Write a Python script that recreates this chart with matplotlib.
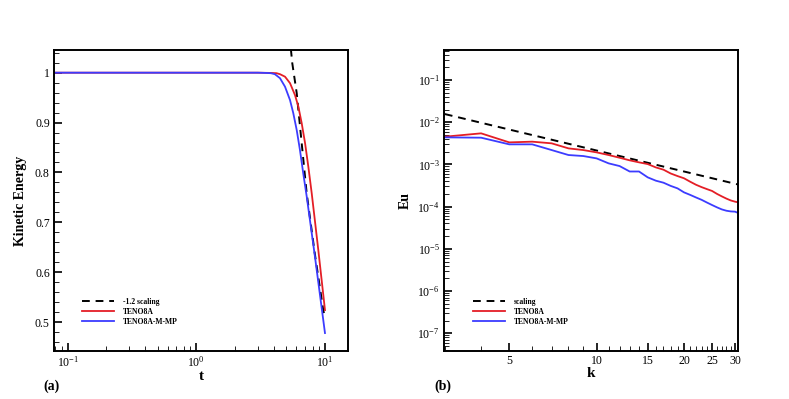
import matplotlib
matplotlib.use("Agg")
import matplotlib.pyplot as plt
from matplotlib.ticker import (LogLocator, NullFormatter, MultipleLocator,
                               FuncFormatter, FixedLocator)

plt.rcParams['font.family'] = ['Liberation Serif', 'DejaVu Serif']
plt.rcParams['mathtext.fontset'] = 'stix'

# ---- panel (a) data ----
t_scaling = [5.3, 5.57, 6.03, 6.59, 7.21, 8.36, 9.7, 10.0]
ke_scaling = [1.075, 1.019, 0.959, 0.859, 0.758, 0.635, 0.524, 0.508]

t_teno = [0.078, 1.0, 3.0, 3.8, 4.2, 4.47, 4.89, 5.35, 5.85, 6.21, 6.59, 7.0, 7.42,
          7.89, 8.87, 10.0]
ke_teno = [1.0, 1.0, 1.0, 0.9995, 0.999, 0.997, 0.992, 0.979, 0.955, 0.932, 0.899,
           0.859, 0.812, 0.758, 0.645, 0.524]

t_mmp = [0.078, 1.0, 3.0, 3.5, 3.8, 4.08, 4.47, 4.89, 5.35, 5.67, 6.03, 6.39, 6.78,
         7.21, 8.36, 10.0]
ke_mmp = [1.0, 1.0, 1.0, 0.9995, 0.999, 0.997, 0.989, 0.972, 0.945, 0.919, 0.885,
          0.845, 0.798, 0.752, 0.631, 0.478]

t_major = [0.1, 1, 10]

# ---- panel (b) data ----
k_scaling = [3, 31]
eu_scaling = [0.0156, 3.3e-4]

k_vals = list(range(3, 32))
eu_teno = [4.54e-3, 5.45e-3, 3.33e-3, 3.46e-3, 3.16e-3, 2.4e-3, 2.19e-3, 1.93e-3,
           1.67e-3, 1.44e-3, 1.25e-3, 1.12e-3, 1.02e-3, 8.5e-4, 7.5e-4, 6.1e-4,
           5.3e-4, 4.7e-4, 3.9e-4, 3.3e-4, 2.9e-4, 2.6e-4, 2.35e-4, 2.0e-4,
           1.75e-4, 1.55e-4, 1.4e-4, 1.31e-4, 1.25e-4]
eu_mmp = [4.38e-3, 4.3e-3, 2.99e-3, 2.99e-3, 2.19e-3, 1.67e-3, 1.58e-3, 1.39e-3,
          1.06e-3, 9.15e-4, 6.8e-4, 6.8e-4, 4.94e-4, 4.12e-4, 3.69e-4, 3.1e-4,
          2.71e-4, 2.18e-4, 1.9e-4, 1.65e-4, 1.45e-4, 1.25e-4, 1.09e-4, 9.6e-5,
          8.6e-5, 8.0e-5, 7.7e-5, 7.6e-5, 6.9e-5]

k_major = [5, 10, 15, 20, 25, 30]
eu_major = [1e-7, 1e-6, 1e-5, 1e-4, 1e-3, 1e-2, 1e-1]

RED = '#e41e26'
BLUE = '#3c3cff'

W, H = 789, 399
fig = plt.figure(figsize=(W / 100, H / 100), dpi=100)

def px_axes(x0, y0, x1, y1):
    return fig.add_axes([x0 / W, 1 - y1 / H, (x1 - x0) / W, (y1 - y0) / H])

axA = px_axes(54, 50, 348, 351)
axB = px_axes(444, 50, 738, 351)

for ax in (axA, axB):
    for s in ax.spines.values():
        s.set_linewidth(1.4)
    ax.tick_params(which='both', direction='in', top=False, right=False,
                   labelsize=8.5, pad=3)
    ax.tick_params(which='major', length=6, width=1.2)
    ax.tick_params(which='minor', length=3.5, width=0.6)

# panel (a)
axA.plot(t_scaling, ke_scaling, color='black', lw=1.4, ls=(0, (4, 3)), label='-1.2 scaling')
axA.plot(t_teno, ke_teno, color=RED, lw=1.3, label='TENO8A')
axA.plot(t_mmp, ke_mmp, color=BLUE, lw=1.3, label='TENO8A-M-MP')
axA.set_xscale('log')
axA.set_xlim(0.0783, 15.1)
axA.set_ylim(0.442, 1.0455)
axA.xaxis.set_major_locator(FixedLocator(t_major))
axA.xaxis.set_minor_locator(LogLocator(base=10, subs=range(2, 10), numticks=100))
axA.xaxis.set_minor_formatter(NullFormatter())
axA.yaxis.set_major_locator(MultipleLocator(0.1))
axA.yaxis.set_minor_locator(MultipleLocator(0.02))
axA.yaxis.set_major_formatter(FuncFormatter(lambda v, p: '%g' % round(v, 2)))
axA.set_xlabel('t', fontsize=11, fontweight='bold', labelpad=0)
axA.set_ylabel('Kinetic Energy', fontsize=10, fontweight='bold', labelpad=6)

# panel (b)
axB.plot(k_scaling, eu_scaling, color='black', lw=1.4, ls=(0, (4, 3)), label='scaling')
axB.plot(k_vals, eu_teno, color=RED, lw=1.3, label='TENO8A')
axB.plot(k_vals, eu_mmp, color=BLUE, lw=1.3, label='TENO8A-M-MP')
axB.set_xscale('log')
axB.set_yscale('log')
axB.set_xlim(2.98, 30.7)
axB.set_ylim(3.8e-8, 0.514)
axB.xaxis.set_major_locator(FixedLocator(k_major))
axB.xaxis.set_minor_locator(FixedLocator([k for k in range(3, 31) if k not in k_major]))
axB.xaxis.set_major_formatter(FuncFormatter(lambda v, p: '%d' % round(v)))
axB.xaxis.set_minor_formatter(NullFormatter())
axB.yaxis.set_major_locator(FixedLocator(eu_major))
axB.yaxis.set_minor_locator(LogLocator(base=10, subs=range(2, 10), numticks=100))
axB.yaxis.set_minor_formatter(NullFormatter())
axB.set_xlabel('k', fontsize=11, fontweight='bold', labelpad=0)
axB.set_ylabel('Eu', fontsize=10, fontweight='bold', labelpad=4)

leg_kw = dict(frameon=False, loc='upper left', borderpad=0, borderaxespad=0,
              handlelength=4.2, handletextpad=1.2, labelspacing=0.25,
              prop={'family': 'Liberation Serif', 'weight': 'bold', 'size': 5.5})
axA.legend(bbox_to_anchor=(82 / W, 1 - 298 / H), bbox_transform=fig.transFigure, **leg_kw)
axB.legend(bbox_to_anchor=(473 / W, 1 - 298 / H), bbox_transform=fig.transFigure, **leg_kw)

fig.text(52 / W, 1 - 386 / H, '(a)', fontsize=10, fontweight='bold', ha='center', va='center')
fig.text(443 / W, 1 - 386 / H, '(b)', fontsize=10, fontweight='bold', ha='center', va='center')

fig.savefig('out.png', dpi=100)
